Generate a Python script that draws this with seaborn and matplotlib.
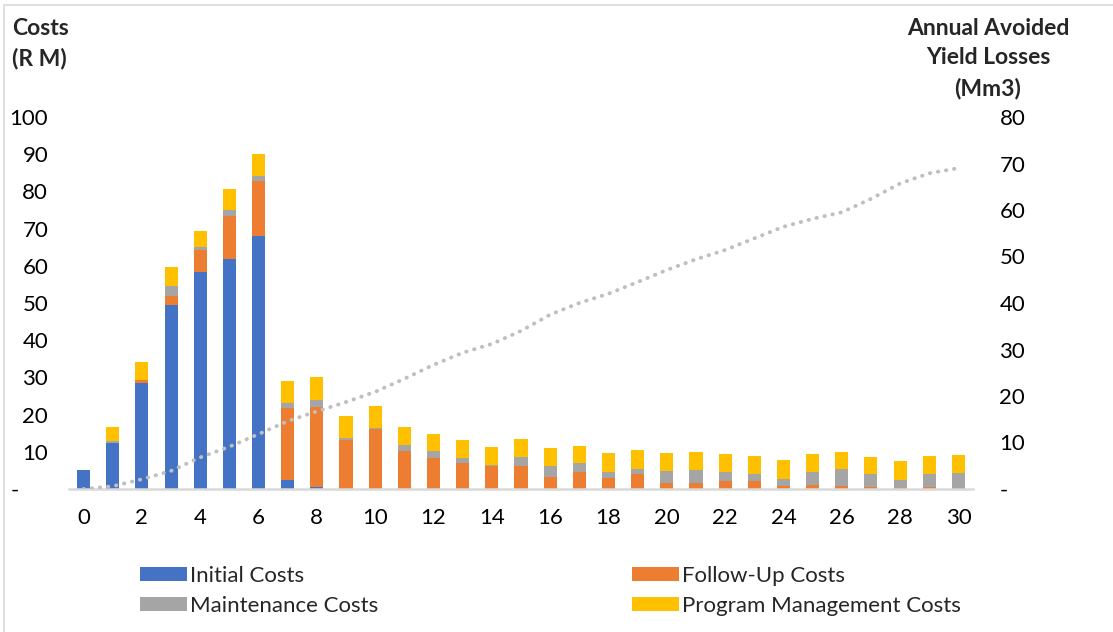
"""
Stacked cost bars per year with the avoided yield losses line on a second axis.
"""
import pandas as pd
import matplotlib.pyplot as plt
import seaborn as sns
from matplotlib.patches import Patch, Rectangle

# Data
years = list(range(31))
initial_costs = [5.1, 12.5, 28.4, 49.4, 58.3, 61.9, 68.0, 2.4, 0.6, 0, 0, 0, 0, 0, 0, 0,
                 0, 0, 0, 0, 0, 0, 0, 0, 0, 0, 0, 0, 0, 0, 0]
followup_costs = [0, 0, 0.9, 2.5, 6.0, 11.4, 14.9, 19.4, 21.5, 13.3, 16.0, 10.3, 8.3, 7.1, 6.1, 6.1,
                  3.3, 4.5, 3.0, 3.9, 1.7, 1.7, 2.1, 2.1, 0.7, 1.2, 0.9, 0.5, 0.3, 0.6, 0.3]
maintenance_costs = [0, 0.3, 0.1, 2.6, 0.8, 1.6, 1.3, 1.3, 1.9, 0.4, 0.4, 1.6, 1.8, 1.2, 0.4, 2.4,
                     2.8, 2.4, 1.6, 1.6, 3.2, 3.4, 2.4, 1.8, 2.1, 3.4, 4.4, 3.4, 2.2, 3.4, 3.9]
program_costs = [0, 3.9, 4.8, 5.1, 4.3, 5.8, 5.8, 5.9, 6.0, 5.8, 5.9, 4.7, 4.7, 4.8, 4.8, 4.9,
                 4.8, 4.7, 5.0, 5.0, 4.9, 4.9, 4.9, 5.0, 5.0, 4.8, 4.7, 4.8, 5.0, 4.9, 5.0]
avoided_losses = [0, 0.6, 2.1, 3.9, 6.8, 9.1, 11.8, 14.6, 16.7, 18.7, 20.9, 23.7, 26.7, 29.3, 31.2, 34.0,
                  37.5, 40.0, 42.0, 44.5, 47.1, 49.4, 51.4, 53.9, 56.4, 58.1, 59.5, 62.4, 65.7, 67.9, 69.0]

series_names = ["Initial Costs", "Follow-Up Costs", "Maintenance Costs", "Program Management Costs"]
series_colors = ["#4472C4", "#ED7D31", "#A5A5A5", "#FFC000"]

sns.set_theme(style="white")
plt.rcParams["font.family"] = ["Lato", "DejaVu Sans"]

df = pd.DataFrame({
    "year": years,
    "Initial Costs": initial_costs,
    "Follow-Up Costs": followup_costs,
    "Maintenance Costs": maintenance_costs,
    "Program Management Costs": program_costs,
})
# cumulative totals so each layer can be drawn over the previous one
cum = df[series_names].cumsum(axis=1)
cum["year"] = df["year"]

W, H = 1113, 632
fig = plt.figure(figsize=(W / 100, H / 100), dpi=100)
ax = fig.add_axes([69 / W, 1 - 489 / H, (973 - 69) / W, (489 - 117) / H])

for name, color in reversed(list(zip(series_names, series_colors))):
    sns.barplot(data=cum, x="year", y=name, color=color, saturation=1, width=0.45,
                native_scale=True, errorbar=None, linewidth=0, ax=ax)

ax.set_xlim(-0.5, 30.5)
ax.set_ylim(0, 100)
ax.set_xlabel("")
ax.set_ylabel("")
ax.set_xticks(range(0, 31, 2))
ax.set_xticklabels([str(y) for y in range(0, 31, 2)])
ax.set_yticks(range(0, 101, 10))
ax.set_yticklabels(["-     "] + [str(v) for v in range(10, 101, 10)])
ax.tick_params(axis="x", length=0, pad=14, labelsize=16, colors="black")
ax.tick_params(axis="y", length=0, pad=15, labelsize=16, colors="black")
for side in ["left", "right", "top"]:
    ax.spines[side].set_visible(False)
ax.spines["bottom"].set_color("#D9D9D9")
ax.spines["bottom"].set_linewidth(1.8)

ax2 = ax.twinx()
sns.lineplot(x=years, y=avoided_losses, ax=ax2, color="#BFBFBF", linewidth=2.8,
             linestyle=(0, (0.1, 2.0)), dash_capstyle="round")
ax2.set_ylim(0, 80)
ax2.set_yticks(range(0, 81, 10))
ax2.set_yticklabels(["-"] + [str(v) for v in range(10, 81, 10)])
ax2.tick_params(axis="y", length=0, pad=19, labelsize=16, colors="black")
for side in ["left", "right", "top", "bottom"]:
    ax2.spines[side].set_visible(False)
ax2.set_ylabel("")

# axis titles
fig.text(12 / W, 1 - 18 / H, "Costs\n(R M)", ha="left", va="top", fontsize=16.5,
         fontweight="bold", linespacing=1.5)
fig.text(988 / W, 1 - 18 / H, "Annual Avoided\nYield Losses\n(Mm3)", ha="center", va="top",
         fontsize=16.5, fontweight="bold", linespacing=1.5, multialignment="center")

# legend, two columns placed separately
handles = [Patch(facecolor=c, edgecolor="none") for c in series_colors]
for idx, xpos in [((0, 2), 140), ((1, 3), 632)]:
    fig.legend([handles[i] for i in idx], [series_names[i] for i in idx],
               loc="upper left", bbox_to_anchor=(xpos / W, 1 - 566 / H),
               frameon=False, borderpad=0, borderaxespad=0, fontsize=16,
               handlelength=2.1, handleheight=0.6, handletextpad=0.15, labelspacing=0.45)

# chart border
fig.patches.append(Rectangle((4 / W, -0.1), 1.2, 1 - 5 / H + 0.1, transform=fig.transFigure,
                             fill=False, edgecolor="#D9D9D9", linewidth=1.2))

fig.savefig("out.png", dpi=100)
